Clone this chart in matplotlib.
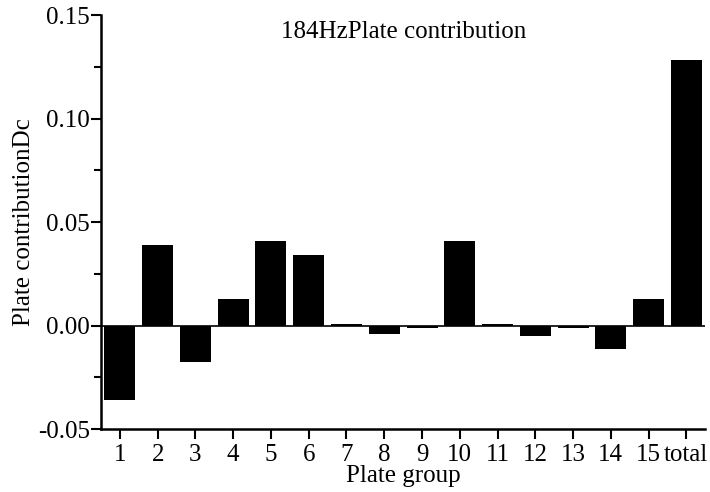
import matplotlib
matplotlib.use('Agg')
import matplotlib.pyplot as plt
import numpy as np
from matplotlib.ticker import MultipleLocator

plt.rcParams['font.family'] = ['Liberation Serif', 'DejaVu Serif']

groups = ['1', '2', '3', '4', '5', '6', '7', '8', '9', '10', '11', '12', '13', '14', '15', 'total']
contrib = [-0.036, 0.0387, -0.0176, 0.0126, 0.041, 0.0343, 0.0005, -0.0043, -0.001,
           0.041, 0.0005, -0.005, -0.001, -0.0115, 0.013, 0.1285]

fs = 18

fig = plt.figure(figsize=(7.1, 4.92), dpi=100)
ax = fig.add_axes([0.1423, 0.128, 0.851, 0.8415])

x = np.arange(len(groups))
ax.bar(x, contrib, width=0.82, color='black')
ax.axhline(0, color='black', linewidth=1.2, zorder=0)

ax.set_xlim(-0.5, len(groups) - 0.5)
ax.set_ylim(-0.05, 0.15)
ax.yaxis.set_major_locator(MultipleLocator(0.05))
ax.yaxis.set_minor_locator(MultipleLocator(0.025))
ax.yaxis.set_major_formatter(matplotlib.ticker.FormatStrFormatter('%.2f'))
ax.set_xticks(x)
ax.set_xticklabels(groups)

for s in ['top', 'right']:
    ax.spines[s].set_visible(False)
for s in ['left', 'bottom']:
    ax.spines[s].set_linewidth(1.8)

ax.tick_params(axis='both', which='major', labelsize=fs, width=1.5, length=7, direction='out')
ax.tick_params(axis='y', which='minor', width=1.5, length=5)
ax.tick_params(axis='x', pad=3.5)
ax.tick_params(axis='y', pad=1)

ax.set_xlabel('Plate group', fontsize=fs, labelpad=-0.5)
ax.set_ylabel('Plate contributionDc', fontsize=fs, labelpad=2)
ax.text(0.5, 0.985, '184HzPlate contribution', transform=ax.transAxes,
        ha='center', va='top', fontsize=fs)

fig.savefig('out.png', dpi=100)
